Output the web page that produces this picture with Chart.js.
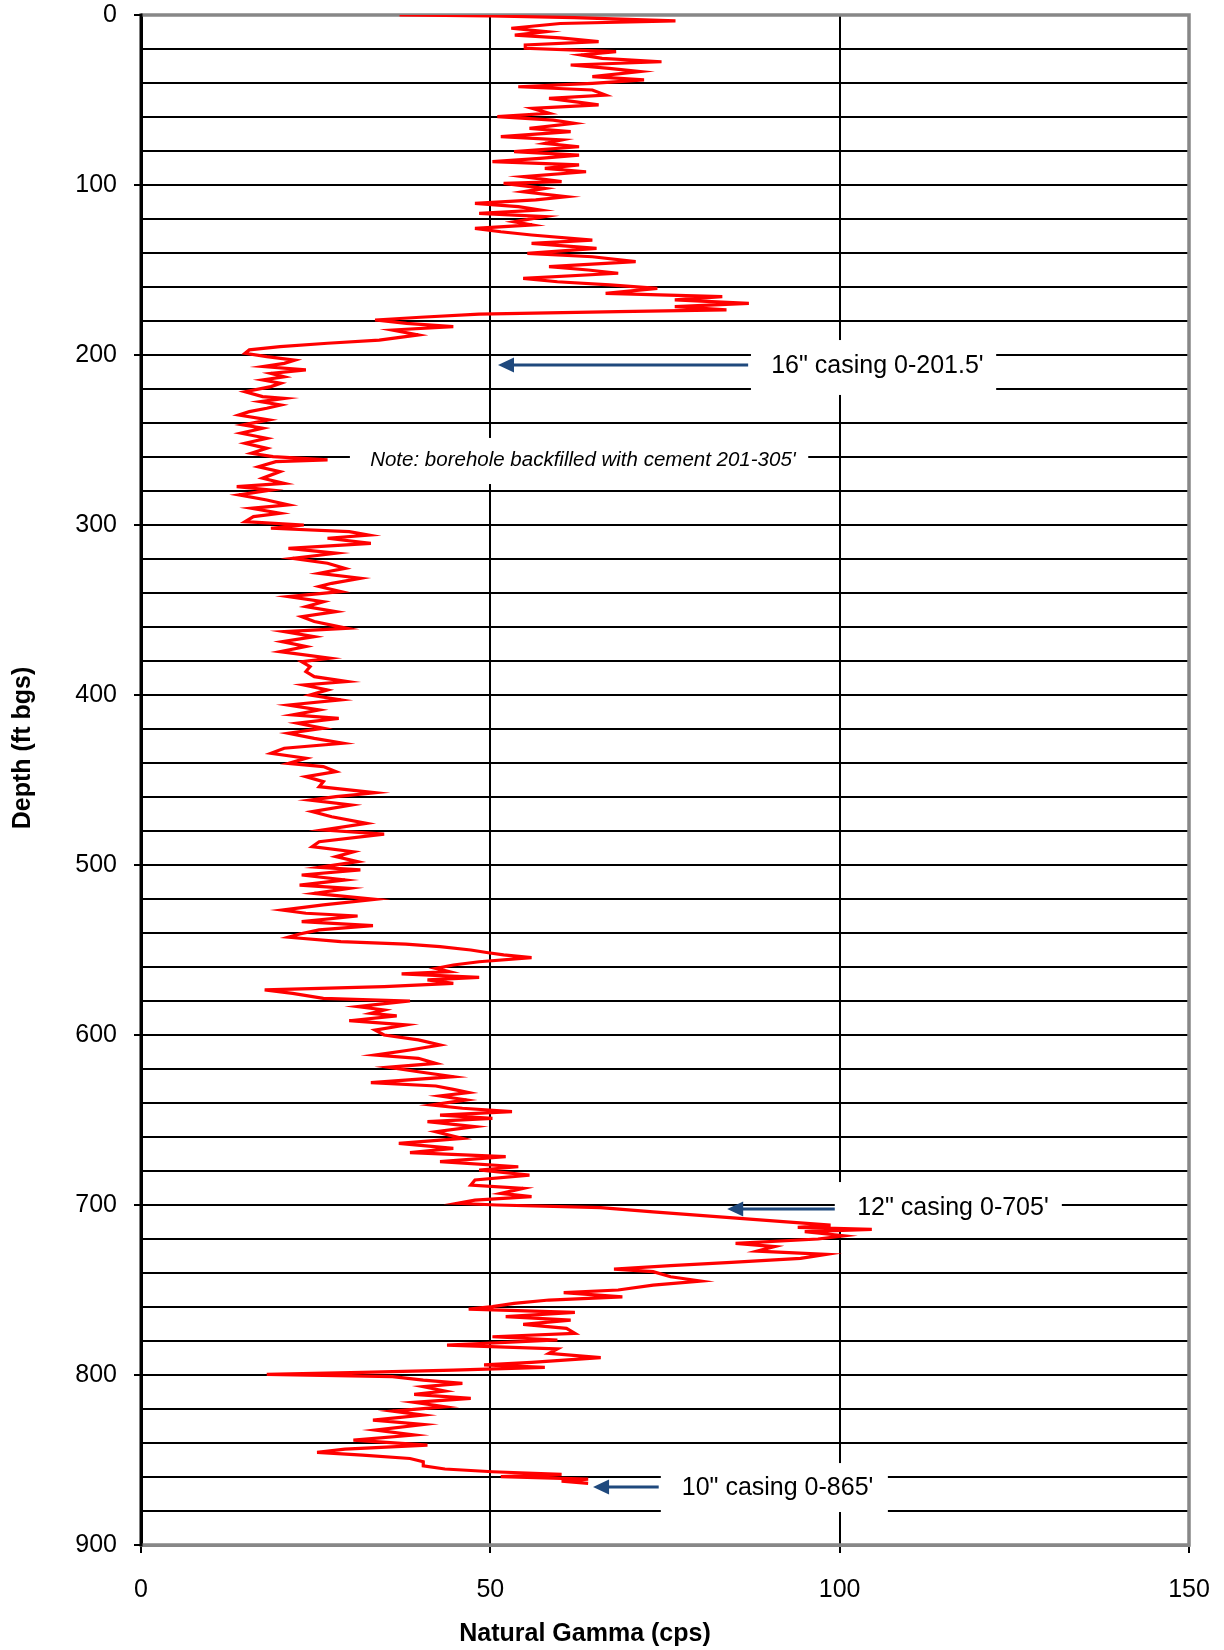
<!DOCTYPE html>
<html>
<head>
<meta charset="utf-8">
<script src="https://cdn.jsdelivr.net/npm/chart.js@4.4.0/dist/chart.umd.min.js"></script>
<style>
html,body{margin:0;padding:0;background:#fff;overflow:hidden;}
#wrap{width:1224px;height:1650px;position:relative;}
canvas{display:block;}
</style>
</head>
<body>
<div id="wrap"><canvas id="c" width="1224" height="1650"></canvas></div>
<script>
// ---- data (depth in ft bgs, natural gamma in cps) ----
const depthFt = [
0,0.6,1.5,3.5,5,7.8,9.8,11.8,13.5,15.7,17.6,19.6,21.6,23.5,25.5,27.5,29.4,31.4,33.3,36.3,38.2,40.2,42.2,44.1,47.1,49,51,52.9,54.9,57.8,59.8,61.8,63.7,66.7,68.6,71.6,73.5,75.5,77.5,80.4,82.4,84.3,86.3,88.2,90.2,92.2,95.1,98,99,102,104,106.9,108.8,110.8,112.7,114.7,116.7,118.6,121.6,123.5,125.5,127.5,129.4,132.4,134.3,137.3,140.2,142.2,145.1,148,150,151.9,154.9,156.9,158.8,160.8,163.7,165.7,167.6,169.6,171.6,173.5,174.5,175.9,177.8,179.4,181.4,183.3,185.3,188.2,191.2,193.1,195.1,197,199,201,203,204.9,206.8,208.8,210.8,212.8,214.7,216.6,218.6,221.6,224.5,
225.5,227.4,229.4,231.3,233.3,235.3,238.2,241.1,243.1,246,249,251.9,254.9,257.8,259.8,261.7,262.7,265.7,268.6,272.5,275.5,277.4,279.4,282.3,285.3,288.2,290.2,293.1,295.1,298,300,301.9,303.9,305.9,307.8,310.8,313.7,316.6,319.6,322.5,325.5,328.4,331.3,334.3,336.2,339.2,342.1,345.1,348,351,353.9,356.8,360.8,362.7,365.7,368.6,371.5,374.5,378.4,380.4,383.3,386.2,389.2,392.1,394.1,397,400,402.9,405.9,408.8,411.7,413.7,416.6,419.6,422.5,425.5,428.4,431.3,434.3,437.2,440.2,442.1,445.1,448,451,
453.9,457.5,459.8,461.8,464.7,468.6,471.6,475.5,479.4,481.8,486.3,489.2,492.2,495.1,498,501.4,502.9,505.9,508.8,511.8,513.7,516.7,520.2,523.5,526.5,528.4,530,533.3,535.7,538.2,540.6,542.5,545.1,546.5,548,550,551.6,552.9,554.5,556.9,558.8,560.8,562.7,564.1,566.1,567.6,569.6,571.6,573.5,575.5,578.4,580,581.8,583.3,585.3,587.3,588.8,591.6,594.1,597.1,600,602.9,605.9,608.8,611.8,613.7,616.7,619,621.6,624.5,628,630,632,633.9,635.9,638.2,641.2,643.1,645.1,647.1,649,651,653.9,656.9,660.8,663.7,666.7,669.2,671.6,674.5,677.5,
679.4,682.4,685.3,688.3,690.2,693.2,695.1,697.1,699,700,701.6,704,705.9,707.9,709.8,711.8,713.2,714.3,715.7,718.1,720,722.6,724.5,727.1,729,731.4,733.8,735.7,737.7,739.2,742.2,744.7,747.1,750,751.6,754,755.9,757.9,759.8,761.2,763.2,765.7,767.7,770.2,772.6,775.5,777.5,779.4,782.4,784.7,787.3,789.8,792.6,794.1,795.5,797.1,798.5,799.6,801,803,804.9,806.9,809.4,811.4,813.8,816.1,818.7,821.2,823.6,826.5,829.1,832.4,835.3,838.3,841.2,843.6,845.5,847.1,849.1,851,853.4,855.3,856.9,858.5,859.8,861.2,862.4,863.7
];
const gammaCps = [
37,50,62,76.5,60,53,58,53.5,60,65.5,55,55,68,63,66,74.5,61.5,67,71.4,64.6,72,64.6,54,64.6,66.5,58.4,62,65.5,56,58.4,51,59,62,55.6,61.5,51.5,60.2,57.8,62.7,53.4,62.7,57.1,50.3,62.7,57.8,63.7,54.7,60.2,51.9,57.8,54.7,60.9,56.5,47.8,54,57.1,48.4,57.8,53.4,56,47.8,51.5,55.9,64.6,55.9,65.2,55.3,64.6,70.8,58.4,64,68.3,54.7,59.6,67.1,73.9,66.5,83.2,76.4,87,76.4,83.8,68.3,48.4,40,33.5,38,44.7,36,39.7,34.1,26.7,19.9,15.5,14.9,18,22,20.5,17.5,23.6,18.6,20.5,17.4,20,18.6,14.9,17.4,
20.5,17.1,20,18,15.5,14,18.3,14.6,17.4,14.3,18,14.9,18,15.8,18.9,26.7,19.3,16.8,19.9,17.4,20.5,13.7,18.6,14,18,21.1,15.8,19.9,16.1,14.9,23.3,18.6,29.8,32.6,26.7,32.9,21.1,27.9,21.7,26.7,29.2,25.5,31.4,27.3,25.5,28.6,21.1,26.1,23.6,27.9,23,24.8,29.5,20.5,24.8,20.2,23.6,19.9,27,23,24.2,23.6,24.8,29.5,23.3,26.7,24.2,28.6,21.1,25.5,21.7,28.3,22.4,26.1,21.1,24.8,28.9,20.5,18.6,23.6,21.1,26.1,27.9,23.6,26.1,
25.5,33.5,27.9,24.2,30.1,24.5,27.3,32.3,26.1,34.8,25.5,24.5,30.4,27.9,31,25.5,31.4,23,29.2,22.7,29.8,24.8,33.5,26.1,20.2,23.6,31,23,33.2,25.5,22.7,21.1,28.6,37.9,42.8,47.2,49.7,51.9,55.9,48.4,44.7,42.2,44.1,37.3,48.4,41,44.7,34.8,17.7,21.7,26.1,38.5,34.2,31,34.8,32.9,36.6,29.8,37.9,33.5,34.8,39.7,42.8,38.5,33.5,39.7,42.2,35.4,39.7,44.7,32.9,42.2,44.7,46.9,42.8,46.6,41.6,46,53.1,42.8,50.3,41,47.8,42.2,46,36.9,44.7,38.5,52.2,42.8,54,
48.4,55.6,47.8,47.2,54.7,51.5,55.9,47.8,45.3,50.9,65.8,73.3,79.5,85.7,91.9,98.7,94,104.6,95,100.6,96.9,85.1,90.7,88.2,98.1,94.4,84.5,75.8,67.7,73.3,75.8,80.1,73.3,68.3,60.5,68.9,58.4,53.4,50.3,46.9,62.1,52.2,61.5,54.7,60.9,62.1,50.3,59.6,43.8,59.6,58.4,65.8,55.9,49.1,57.8,44.7,31.7,18,36,40.4,46,40.4,43.5,39.1,47.2,39.1,43.5,36,40.4,33.2,40.4,33.5,39.1,30.4,41,29.2,25.2,31.7,38.5,40.4,40.4,43.5,50.3,60.2,51.5,64,60.2,64
];
const xTickValues = [0, 50, 100, 150];
const yMin = 0, yMax = 900, yGridStep = 20, yLabelStep = 100;
const xTitle = 'Natural Gamma (cps)';
const yTitle = 'Depth (ft bgs)';
// casing annotations (text, depth, arrow tip / tail in cps)
const casingLabels = ['16" casing 0-201.5\'', '12" casing 0-705\'', '10" casing 0-865\''];
const casingArrowDepth = [205.9, 702.4, 865.9];
const casingArrowTip = [51.1, 83.9, 64.7];
const casingArrowTail = [86.9, 99.3, 74.1];
const noteLabel = "Note: borehole backfilled with cement 201-305'";

// ---- layout of annotation boxes (data units) ----
const casingBoxes = [
  {x0: 87.3, x1: 122.4, y0: 191.2, y1: 223.5, tx: 90.2, ty: 206.5},
  {x0: 99.3, x1: 131.8, y0: 686.5, y1: 713.5, tx: 102.5, ty: 701.8},
  {x0: 74.4, x1: 106.9, y0: 851.8, y1: 880.6, tx: 77.4, ty: 866.5}
];
const noteBox = {x0: 29.9, x1: 95.5, y0: 248.8, y1: 275.9, tx: 32.8, ty: 261.8};

const FONT = "'Liberation Sans', Arial, Helvetica, sans-serif";

const points = depthFt.map((d, i) => ({x: gammaCps[i], y: d}));

const overlay = {
  id: 'overlay',
  beforeDatasetsDraw(chart) {
    const {ctx, scales: {x, y}, chartArea: a} = chart;
    ctx.save();
    ctx.fillStyle = '#ffffff';
    const all = casingBoxes.concat([noteBox]);
    all.forEach(b => {
      const px0 = x.getPixelForValue(b.x0), px1 = x.getPixelForValue(b.x1);
      const py0 = y.getPixelForValue(b.y0), py1 = y.getPixelForValue(b.y1);
      ctx.fillRect(px0, py0, px1 - px0, py1 - py0);
    });
    // frame: top, right, bottom grey; left black
    ctx.strokeStyle = '#878787';
    ctx.lineWidth = 3.5;
    ctx.beginPath();
    ctx.moveTo(a.left, a.top); ctx.lineTo(a.right, a.top);
    ctx.lineTo(a.right, a.bottom); ctx.lineTo(a.left, a.bottom);
    ctx.stroke();
    ctx.strokeStyle = '#000';
    ctx.lineWidth = 3;
    ctx.beginPath();
    ctx.moveTo(a.left, a.top - 1.5); ctx.lineTo(a.left, a.bottom + 1.5);
    ctx.stroke();
    ctx.restore();
  },
  afterDatasetsDraw(chart) {
    const {ctx, scales: {x, y}} = chart;
    ctx.save();
    // arrows
    ctx.strokeStyle = '#1f497d';
    ctx.fillStyle = '#1f497d';
    ctx.lineWidth = 3;
    casingLabels.forEach((t, i) => {
      const py = y.getPixelForValue(casingArrowDepth[i]);
      const tip = x.getPixelForValue(casingArrowTip[i]);
      const tail = x.getPixelForValue(casingArrowTail[i]);
      const head = 16;
      ctx.beginPath();
      ctx.moveTo(tail, py); ctx.lineTo(tip + head - 2, py);
      ctx.stroke();
      ctx.beginPath();
      ctx.moveTo(tip, py);
      ctx.lineTo(tip + head, py - 7.5);
      ctx.lineTo(tip + head, py + 7.5);
      ctx.closePath();
      ctx.fill();
    });
    // casing labels
    ctx.fillStyle = '#000';
    ctx.textBaseline = 'middle';
    ctx.textAlign = 'left';
    ctx.font = "25px " + FONT;
    casingLabels.forEach((t, i) => {
      const b = casingBoxes[i];
      ctx.fillText(t, x.getPixelForValue(b.tx), y.getPixelForValue(b.ty));
    });
    ctx.font = "italic 20.5px " + FONT;
    ctx.fillText(noteLabel, x.getPixelForValue(noteBox.tx), y.getPixelForValue(noteBox.ty));
    ctx.restore();
  },
  afterDraw(chart) {
    const {ctx, chartArea: a} = chart;
    ctx.save();
    ctx.fillStyle = '#000';
    ctx.font = "bold 25px " + FONT;
    ctx.textAlign = 'center';
    ctx.textBaseline = 'middle';
    ctx.fillText(xTitle, a.left + 444, 1634);
    ctx.translate(23, a.top + 733);
    ctx.rotate(-Math.PI / 2);
    ctx.fillText(yTitle, 0, 0);
    ctx.restore();
  }
};

new Chart(document.getElementById('c'), {
  type: 'line',
  data: {
    datasets: [{
      label: 'Natural Gamma',
      data: points,
      borderColor: '#ff0000',
      backgroundColor: '#ff0000',
      borderWidth: 3.2,
      pointRadius: 0,
      tension: 0,
      fill: false
    }]
  },
  options: {
    responsive: false,
    animation: false,
    devicePixelRatio: 1,
    layout: {padding: {top: 15, right: 35, left: 0, bottom: 0}},
    plugins: {legend: {display: false}, tooltip: {enabled: false}},
    scales: {
      x: {
        type: 'linear',
        position: 'bottom',
        min: 0, max: 150,
        afterBuildTicks: s => { s.ticks = xTickValues.map(v => ({value: v})); },
        afterFit: s => { s.height = 105; s.paddingLeft = 0; s.paddingRight = 0; },
        ticks: {
          autoSkip: false,
          color: '#000',
          font: {family: FONT, size: 25},
          padding: 22,
          maxRotation: 0
        },
        grid: {
          color: '#000',
          lineWidth: 2,
          drawTicks: true,
          tickLength: 8,
          tickColor: '#000',
          tickWidth: 2
        },
        border: {display: true, color: '#878787', width: 3}
      },
      y: {
        type: 'linear',
        reverse: true,
        min: yMin, max: yMax,
        afterFit: s => { s.width = 141; s.paddingTop = 0; s.paddingBottom = 0; },
        ticks: {
          stepSize: yGridStep,
          autoSkip: false,
          color: '#000',
          font: {family: FONT, size: 25},
          padding: 17,
          callback: v => (v % yLabelStep === 0 ? String(v) : '')
        },
        grid: {
          color: '#000',
          lineWidth: 2,
          drawTicks: true,
          tickLength: 7,
          tickWidth: 2,
          tickColor: c => (c.tick && c.tick.value % yLabelStep === 0 ? '#000' : 'rgba(0,0,0,0)')
        },
        border: {display: true, color: '#000', width: 3}
      }
    }
  },
  plugins: [overlay]
});
</script>
</body>
</html>
